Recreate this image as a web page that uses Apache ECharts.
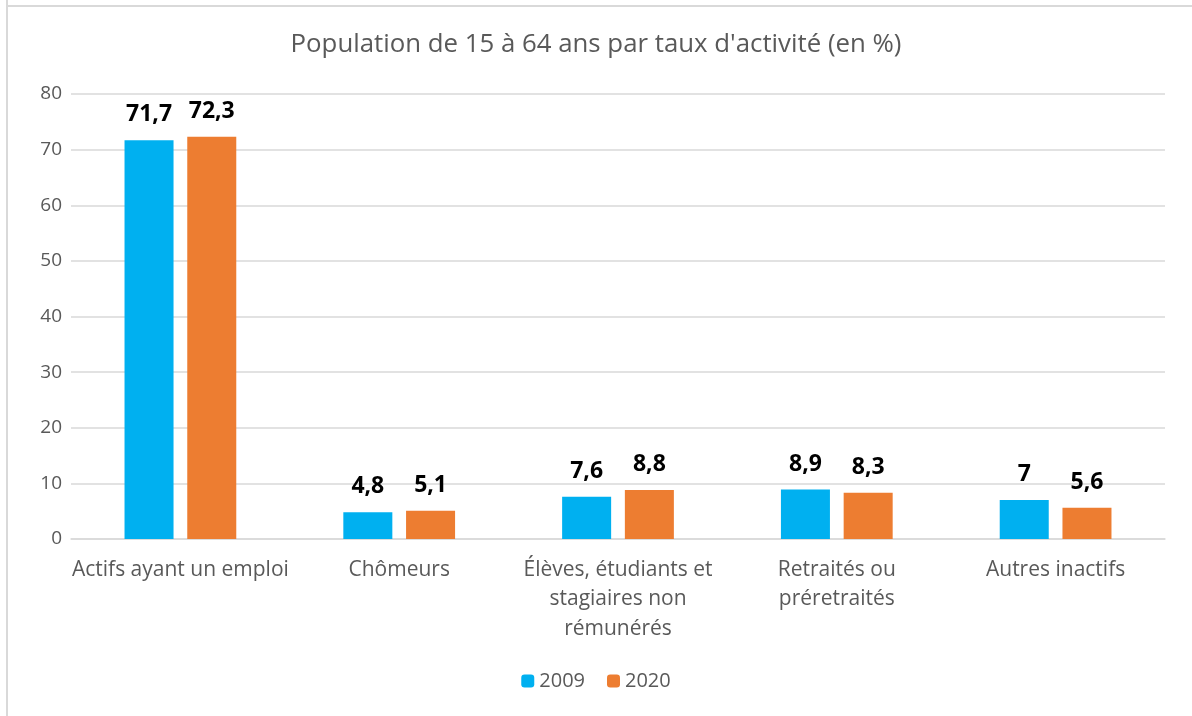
<!DOCTYPE html>
<html><head><meta charset="utf-8">
<script src="https://cdn.jsdelivr.net/npm/echarts@6/dist/echarts.min.js"></script>
<style>html,body{margin:0;padding:0;background:#fff}#c{width:1192px;height:716px}</style>
</head><body><div id="c"></div>
<script>
const categories = ['Actifs ayant un emploi', 'Chômeurs', 'Élèves, étudiants et\nstagiaires non\nrémunérés', 'Retraités ou\npréretraités', 'Autres inactifs'];
const seriesNames = ['2009', '2020'];
const values2009 = [71.7, 4.8, 7.6, 8.9, 7];
const values2020 = [72.3, 5.1, 8.8, 8.3, 5.6];
const colors = ['#00B0F0', '#ED7D31'];
const font = '"Open Sans", "Noto Sans", sans-serif';
const fmt = p => String(p.value).replace('.', ',');
const chart = echarts.init(document.getElementById('c'));
chart.setOption({
  animation: false,
  graphic: [
    {type:'line', shape:{x1:7,y1:0,x2:7,y2:716}, style:{stroke:'#d9d9d9', lineWidth:2}},
    {type:'line', shape:{x1:7,y1:6,x2:1192,y2:6}, style:{stroke:'#d9d9d9', lineWidth:2}}
  ],
  title: {text:'Population de 15 à 64 ans par taux d\'activité (en %)', left:'center', top:27,
    textStyle:{fontFamily:font, fontSize:25.8, fontWeight:'normal', color:'#595959'}},
  legend: {bottom:20, left:'center', itemWidth:13, itemHeight:13, itemGap:22,
    textStyle:{fontFamily:font, fontSize:20, color:'#595959'}, data: seriesNames},
  grid: {left:71, right:27, top:94, bottom:177, containLabel:false},
  xAxis: {type:'category', data:categories,
    axisLine:{lineStyle:{color:'#d9d9d9', width:1.5}}, axisTick:{show:false},
    axisLabel:{fontFamily:font, fontSize:21, color:'#595959', margin:16, lineHeight:29.5, interval:0}},
  yAxis: {type:'value', min:0, max:80, interval:10,
    axisLine:{show:false}, axisTick:{show:false},
    splitLine:{lineStyle:{color:'#d9d9d9', width:1.5}},
    axisLabel:{fontFamily:font, fontSize:19, color:'#595959', margin:9}},
  series: [
    {name:seriesNames[0], type:'bar', data:values2009, barWidth:'22.4%', barGap:'28%',
      itemStyle:{color:colors[0]},
      label:{show:true, position:'top', distance:14, formatter:fmt, fontFamily:font, fontSize:23, fontWeight:'bold', color:'#000'}},
    {name:seriesNames[1], type:'bar', data:values2020, barWidth:'22.4%',
      itemStyle:{color:colors[1]},
      label:{show:true, position:'top', distance:14, formatter:fmt, fontFamily:font, fontSize:23, fontWeight:'bold', color:'#000'}}
  ]
});
</script></body></html>
